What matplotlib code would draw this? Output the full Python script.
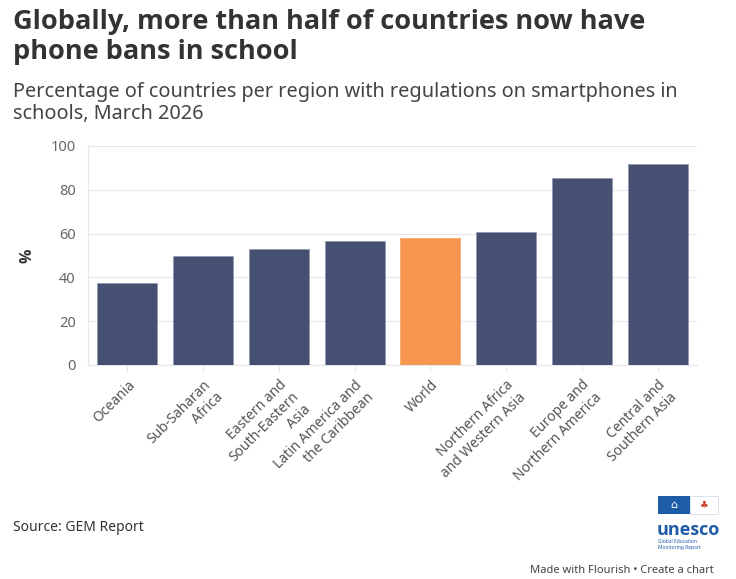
import matplotlib
matplotlib.use("Agg")
import matplotlib.pyplot as plt
from matplotlib.patches import Rectangle

regions = ["Oceania", "Sub-Saharan\nAfrica", "Eastern and\nSouth-Eastern\nAsia",
           "Latin America and\nthe Caribbean", "World", "Northern Africa\nand Western Asia",
           "Europe and\nNorthern America", "Central and\nSouthern Asia"]
values = [37.3, 49.8, 53, 56.7, 57.8, 60.8, 85.5, 92]
highlight = "World"
yticks = [0, 20, 40, 60, 80, 100]

NAVY = "#465072"
ORANGE = "#F7964F"
GRID = "#e6e7ec"
TXT = "#333333"
GRAY = "#666666"
FONT = "Noto Sans"
plt.rcParams["font.family"] = [FONT, "DejaVu Sans"]

fig = plt.figure(figsize=(7.36, 5.79), dpi=100)
ax = fig.add_axes([88/736, 1-365/579, (697-88)/736, (365-146)/579])

colors = [ORANGE if r == highlight else NAVY for r in regions]
x = list(range(len(regions)))
bars = ax.bar(x, values, width=0.79, color=colors, edgecolor="#8a90a8", linewidth=0.4, zorder=3)
for b, r in zip(bars, regions):
    if r == highlight:
        b.set_edgecolor(ORANGE)

ax.set_xlim(-0.52, len(regions) - 0.48)
ax.set_ylim(0, 100)
ax.set_yticks(yticks)
ax.set_yticklabels([str(t) for t in yticks], fontsize=10.5, color=GRAY)
ax.grid(axis="y", color=GRID, linewidth=0.8, zorder=0)
ax.set_xticks(x)
ax.set_xticklabels(regions, rotation=45, ha="right", va="top", rotation_mode="anchor",
                   fontsize=10, color="#555555", multialignment="right")
ax.tick_params(axis="x", length=5, color=GRID, pad=4)
ax.tick_params(axis="y", length=0, pad=9)
for s in ["top", "right"]:
    ax.spines[s].set_visible(False)
ax.spines["left"].set_color(GRID)
ax.spines["bottom"].set_color(GRID)
ax.set_ylabel("%", fontsize=11.5, fontweight="bold", color=TXT, labelpad=11,
              family=["Open Sans", "DejaVu Sans"])

fig.text(13/736, 1-9/579, "Globally, more than half of countries now have\nphone bans in school",
         fontsize=19.5, fontweight="bold", color=TXT, va="top", ha="left", linespacing=1.18,
         family=["Open Sans", "DejaVu Sans"])
fig.text(13/736, 1-82/579, "Percentage of countries per region with regulations on smartphones in\nschools, March 2026",
         fontsize=14.3, color="#444444", va="top", ha="left", linespacing=1.14)
fig.text(13/736, 1-531/579, "Source: GEM Report", fontsize=10, color=TXT, va="baseline")
fig.text(714/736, 1-573/579, "Made with Flourish \u2022 Create a chart", fontsize=8, color="#444444",
         ha="right", va="baseline")

# UNESCO logo approximation
BLUE = "#1f5ca8"
fig.patches.append(Rectangle((658/736, 1-514/579), 32/736, 18/579, transform=fig.transFigure,
                             facecolor=BLUE, edgecolor="none"))
fig.patches.append(Rectangle((690/736, 1-514/579), 28/736, 18/579, transform=fig.transFigure,
                             facecolor="white", edgecolor="#c9d4e6", linewidth=0.5))
fig.text(704/736, 1-506/579, "\u2663", fontsize=7, color="#d0483a", ha="center", va="center")
fig.text(674/736, 1-506/579, "\u2302", fontsize=8, color="white", ha="center", va="center")
fig.text(688/736, 1-535/579, "unesco", fontsize=13, fontweight="bold", color=BLUE, ha="center",
         va="baseline", family=["Open Sans", "DejaVu Sans"])
fig.text(658/736, 1-543/579, "Global Education", fontsize=3.5, color=BLUE, ha="left", va="baseline")
fig.text(658/736, 1-549/579, "Monitoring Report", fontsize=3.5, color=BLUE, ha="left", va="baseline")

fig.savefig("out.png", dpi=100, facecolor="white")
